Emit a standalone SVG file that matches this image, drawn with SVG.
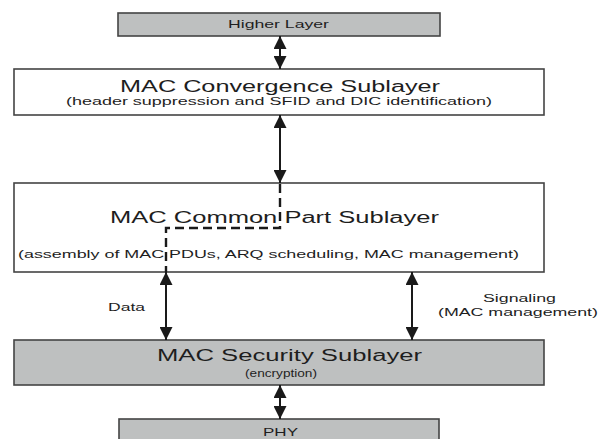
<svg xmlns="http://www.w3.org/2000/svg" width="600" height="439" viewBox="0 0 600 439">
  <defs>
    <marker id="head" viewBox="0 0 13 13" refX="13" refY="6.5" markerWidth="13" markerHeight="13" markerUnits="userSpaceOnUse" orient="auto-start-reverse">
      <path d="M0,0 L13,6.5 L0,13 Z" fill="#1a1a1a"/>
    </marker>
  </defs>
  <style>
    .box { stroke: #444; stroke-width: 1.6; }
    .white { fill: #ffffff; }
    .grey { fill: #bec0c0; }
    text { font-family: "Liberation Sans", Arial, sans-serif; fill: #1e1e1e; }
    .title { font-size: 16px; }
    .small { font-size: 11px; }
    .link { stroke: #1a1a1a; stroke-width: 2; fill: none; }
    .dash { stroke: #1a1a1a; stroke-width: 2.4; fill: none; stroke-dasharray: 9 5; }
  </style>
  <rect width="600" height="439" fill="#ffffff"/>

  <g id="higher-layer">
    <rect class="box grey" x="118" y="13" width="322" height="23"/>
    <text class="small" x="228" y="28" textLength="101" lengthAdjust="spacingAndGlyphs">Higher Layer</text>
  </g>

  <g id="convergence-sublayer">
    <rect class="box white" x="14" y="69" width="530" height="46"/>
    <text class="title" x="120" y="92" textLength="320" lengthAdjust="spacingAndGlyphs">MAC Convergence Sublayer</text>
    <text class="small" x="66" y="105" textLength="426" lengthAdjust="spacingAndGlyphs">(header suppression and SFID and DIC identification)</text>
  </g>

  <g id="common-part-sublayer">
    <rect class="box white" x="14" y="183" width="530" height="89"/>
    <text class="title" x="110" y="223" textLength="329" lengthAdjust="spacingAndGlyphs">MAC Common Part Sublayer</text>
    <text class="small" x="18" y="258" textLength="501" lengthAdjust="spacingAndGlyphs">(assembly of MAC PDUs, ARQ scheduling, MAC management)</text>
  </g>

  <g id="security-sublayer">
    <rect class="box grey" x="14" y="340" width="530" height="45"/>
    <text class="title" x="157" y="361" textLength="265" lengthAdjust="spacingAndGlyphs">MAC Security Sublayer</text>
    <text class="small" x="245" y="377" textLength="72" lengthAdjust="spacingAndGlyphs">(encryption)</text>
  </g>

  <g id="phy">
    <rect class="box grey" x="119" y="419" width="320" height="30"/>
    <text class="small" x="263" y="436" textLength="35" lengthAdjust="spacingAndGlyphs">PHY</text>
  </g>

  <g id="connectors">
    <line class="link" x1="280" y1="36" x2="280" y2="69" marker-start="url(#head)" marker-end="url(#head)"/>
    <line class="link" x1="280" y1="115" x2="280" y2="183" marker-start="url(#head)" marker-end="url(#head)"/>
    <path class="dash" d="M280,184 V228 H166 V272"/>
    <line class="link" x1="166" y1="272" x2="166" y2="340" marker-start="url(#head)" marker-end="url(#head)"/>
    <line class="link" x1="412" y1="272" x2="412" y2="340" marker-start="url(#head)" marker-end="url(#head)"/>
    <line class="link" x1="280" y1="385" x2="280" y2="419" marker-start="url(#head)" marker-end="url(#head)"/>
    <text class="small" x="108" y="311" textLength="37" lengthAdjust="spacingAndGlyphs">Data</text>
    <text class="small" x="483" y="302" textLength="73" lengthAdjust="spacingAndGlyphs">Signaling</text>
    <text class="small" x="438" y="316" textLength="160" lengthAdjust="spacingAndGlyphs">(MAC management)</text>
  </g>
</svg>
